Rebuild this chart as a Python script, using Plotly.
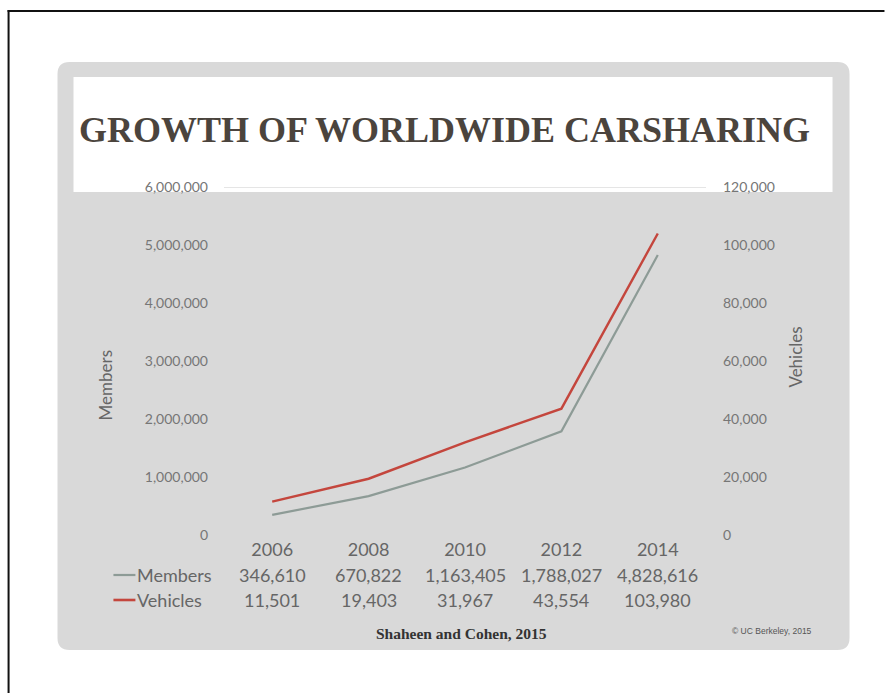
import plotly.graph_objects as go

# Worldwide carsharing growth (Shaheen and Cohen, 2015)
years = ["2006", "2008", "2010", "2012", "2014"]
members = [346610, 670822, 1163405, 1788027, 4828616]
vehicles = [11501, 19403, 31967, 43554, 103980]

member_ticks = [0, 1000000, 2000000, 3000000, 4000000, 5000000, 6000000]
vehicle_ticks = [0, 20000, 40000, 60000, 80000, 100000, 120000]

W, H = 885, 693
L, R, T, B = 223.7, 706.3, 187.0, 535.0

GREY_LINE = "#8d9b96"
RED_LINE = "#c4463d"
TEXT_GREY = "#666666"
PANEL = "#d9d9d9"


def X(px):
    return (px - L) / (R - L)


def Y(py):
    return (B - py) / (B - T)


def rounded_rect(x0, y0, x1, y1, r):
    return (
        f"M {X(x0 + r)},{Y(y0)} L {X(x1 - r)},{Y(y0)} "
        f"Q {X(x1)},{Y(y0)} {X(x1)},{Y(y0 + r)} "
        f"L {X(x1)},{Y(y1 - r)} Q {X(x1)},{Y(y1)} {X(x1 - r)},{Y(y1)} "
        f"L {X(x0 + r)},{Y(y1)} Q {X(x0)},{Y(y1)} {X(x0)},{Y(y1 - r)} "
        f"L {X(x0)},{Y(y0 + r)} Q {X(x0)},{Y(y0)} {X(x0 + r)},{Y(y0)} Z"
    )


fig = go.Figure()

fig.add_trace(go.Scatter(
    x=years, y=members, name="Members", mode="lines",
    line=dict(color=GREY_LINE, width=2.2), yaxis="y",
))
fig.add_trace(go.Scatter(
    x=years, y=vehicles, name="Vehicles", mode="lines",
    line=dict(color=RED_LINE, width=2.4), yaxis="y2",
))

shapes = [
    # slide frame: left and top edges
    dict(type="line", xref="paper", yref="paper",
         x0=X(8), x1=X(8), y0=Y(10), y1=Y(693),
         line=dict(color="#111111", width=2), layer="below"),
    dict(type="line", xref="paper", yref="paper",
         x0=X(7), x1=X(885), y0=Y(11), y1=Y(11),
         line=dict(color="#111111", width=2), layer="below"),
    # grey content panel
    dict(type="path", xref="paper", yref="paper",
         path=rounded_rect(57, 62, 850, 650, 12),
         fillcolor=PANEL, line=dict(width=0), layer="below"),
    # white title band
    dict(type="rect", xref="paper", yref="paper",
         x0=X(73), x1=X(833), y0=Y(77), y1=Y(192),
         fillcolor="white", line=dict(width=0), layer="below"),
    # top gridline
    dict(type="line", xref="paper", yref="y",
         x0=0, x1=1, y0=member_ticks[-1], y1=member_ticks[-1],
         line=dict(color="#cbcbcb", width=1.2), layer="below"),
    # legend keys of the data table
    dict(type="line", xref="paper", yref="paper",
         x0=X(113), x1=X(135), y0=Y(575), y1=Y(575),
         line=dict(color=GREY_LINE, width=2.2)),
    dict(type="line", xref="paper", yref="paper",
         x0=X(113), x1=X(135), y0=Y(600), y1=Y(600),
         line=dict(color=RED_LINE, width=2.6)),
]

table_font = dict(family="Lato", size=18, color=TEXT_GREY)
annotations = [
    dict(text="GROWTH OF WORLDWIDE CARSHARING", xref="paper", yref="paper",
         x=X(444), y=Y(130), showarrow=False, xanchor="center", yanchor="middle",
         font=dict(family="Liberation Serif", size=36, color="#4b443d", weight="bold")),
    dict(text="Members", xref="paper", yref="paper", x=X(105), y=Y(385),
         textangle=-90, showarrow=False, xanchor="center", yanchor="middle",
         font=dict(family="Lato", size=17, color=TEXT_GREY)),
    dict(text="Vehicles", xref="paper", yref="paper", x=X(795), y=Y(357),
         textangle=-90, showarrow=False, xanchor="center", yanchor="middle",
         font=dict(family="Lato", size=17, color=TEXT_GREY)),
    dict(text="Members", xref="paper", yref="paper", x=X(135), y=Y(575),
         showarrow=False, xanchor="left", yanchor="middle", font=table_font),
    dict(text="Vehicles", xref="paper", yref="paper", x=X(135), y=Y(600),
         showarrow=False, xanchor="left", yanchor="middle", font=table_font),
    dict(text="Shaheen and Cohen, 2015", xref="paper", yref="paper",
         x=X(461), y=Y(633), showarrow=False, xanchor="center", yanchor="middle",
         font=dict(family="Liberation Serif", size=15.5, color="#333333", weight="bold")),
    dict(text="© UC Berkeley, 2015", xref="paper", yref="paper",
         x=X(772), y=Y(631), showarrow=False, xanchor="center", yanchor="middle",
         font=dict(family="Liberation Sans", size=8.5, color="#555555")),
]

# data table rows, placed under each category through the x axis
for i, (m, v) in enumerate(zip(members, vehicles)):
    annotations.append(dict(text=f"{m:,}", xref="x", yref="paper", x=i, y=Y(575),
                            showarrow=False, xanchor="center", yanchor="middle",
                            font=table_font))
    annotations.append(dict(text=f"{v:,}", xref="x", yref="paper", x=i, y=Y(600),
                            showarrow=False, xanchor="center", yanchor="middle",
                            font=table_font))

fig.update_layout(
    width=W, height=H,
    margin=dict(l=L, r=W - R, t=T, b=H - B, pad=0),
    paper_bgcolor="white",
    plot_bgcolor="rgba(0,0,0,0)",
    showlegend=False,
    shapes=shapes,
    annotations=annotations,
    xaxis=dict(
        type="category", categoryorder="array", categoryarray=years,
        range=[-0.5, len(years) - 0.5],
        showgrid=False, zeroline=False, showline=False, ticks="",
        tickfont=dict(family="Lato", size=18, color=TEXT_GREY),
        ticklabelstandoff=2,
    ),
    yaxis=dict(
        range=[0, member_ticks[-1]], tickvals=member_ticks, tickformat=",",
        showgrid=False, zeroline=False, showline=False, ticks="",
        tickfont=dict(family="Lato", size=14, color="#767676"),
        ticklabelstandoff=15,
    ),
    yaxis2=dict(
        range=[0, vehicle_ticks[-1]], tickvals=vehicle_ticks, tickformat=",",
        overlaying="y", side="right",
        showgrid=False, zeroline=False, showline=False, ticks="",
        tickfont=dict(family="Lato", size=14, color="#767676"),
        ticklabelstandoff=16,
    ),
)

fig.write_html("out.html")
